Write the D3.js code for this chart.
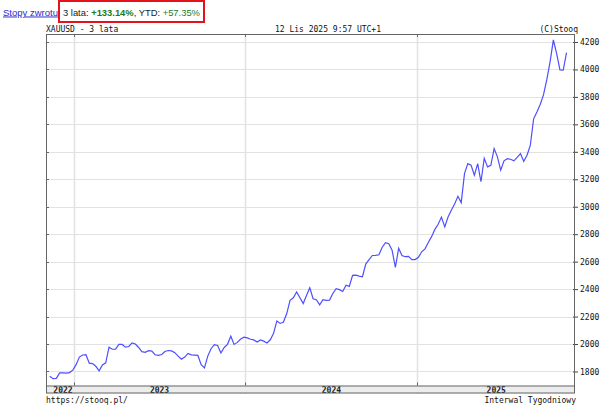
<!DOCTYPE html>
<html><head><meta charset="utf-8">
<script src="https://cdn.jsdelivr.net/npm/d3@7"></script>
<style>
html,body{margin:0;padding:0;background:#fff;}
svg{display:block;}
</style></head>
<body>
<svg id="c" width="605" height="411"></svg>
<script>
// ---- data ----
const firstWeek = "2022-11-11";
const lastWeek = "2025-11-14";
const closes2022 = [1765,1748,1750,1790,1790,1788,1792,1810];
const closes2023 = [1850,1905,1920,1922,1861,1858,1838,1805,1848,1863,1977,1962,1963,1998,1997,1977,1982,2008,2000,1975,1945,1940,1952,1948,1922,1917,1924,1946,1953,1950,1937,1912,1889,1905,1932,1921,1919,1917,1850,1826,1912,1966,1996,1990,1935,1975,1998,2057,1997,2012,2036,2050];
const closes2024 = [2045,2035,2030,2014,2030,2021,2008,2031,2079,2168,2150,2160,2222,2318,2337,2380,2337,2295,2354,2410,2330,2323,2285,2323,2318,2320,2368,2403,2396,2383,2428,2420,2500,2502,2495,2490,2582,2615,2645,2646,2650,2705,2738,2731,2683,2558,2697,2645,2636,2638,2615,2615];
const closes2025 = [2632,2672,2693,2740,2782,2835,2872,2925,2853,2925,2975,3020,3076,3030,3241,3314,3302,3230,3314,3182,3352,3290,3302,3424,3363,3266,3334,3350,3346,3334,3360,3387,3331,3375,3448,3640,3690,3745,3815,3925,4055,4215,4115,3997,3995,4122];
const yTickValues = [1800,2000,2200,2400,2600,2800,3000,3200,3400,3600,3800,4000,4200];
const yearLabels = ["2022","2023","2024","2025"];
const headerParts = [
  {text: "3 lata: ", color: "#222", bold: false},
  {text: "+133.14%", color: "#1c7a1c", bold: true},
  {text: ", YTD: ", color: "#222", bold: false},
  {text: "+57.35%", color: "#1c7a1c", bold: false}
];
const linkText = "Stopy zwrotu";
const titleLeft = "XAUUSD - 3 lata";
const titleMid = "12 Lis 2025 9:57 UTC+1";
const titleRight = "(C)Stooq";
const footLeft = "https://stooq.pl/";
const footRight = "Interwal Tygodniowy";

const values = [].concat(closes2022, closes2023, closes2024, closes2025);
const parse = d3.utcParse("%Y-%m-%d");
const weeks = d3.utcFriday.range(parse(firstWeek), d3.utcDay.offset(parse(lastWeek), 1));
const data = weeks.map((d, i) => ({date: d, v: values[i]}));

// ---- layout ----
const L = 46, R = 575, T = 34, B = 385.5, SB = 393.5;
const svg = d3.select("#c");
const mono = "'DejaVu Sans Mono', 'Liberation Mono', monospace";
const sans = "Arial, 'Liberation Sans', sans-serif";

const x = d3.scaleUtc().domain([Date.UTC(2022,10,3), Date.UTC(2025,11,2)]).range([L, R]);
const y = d3.scaleLinear().domain([1698, 4258]).range([B, T]);

// header
svg.append("text").attr("x", 3).attr("y", 15.5)
  .attr("font-family", sans).attr("font-size", 9.5)
  .attr("fill", "#2a2acf").attr("text-decoration", "underline").text(linkText);
svg.append("rect").attr("x", 59).attr("y", 1).attr("width", 145).attr("height", 21)
  .attr("fill", "none").attr("stroke", "#e3131b").attr("stroke-width", 2);
let hx = 63;
headerParts.forEach(p => {
  const t = svg.append("text").attr("x", hx).attr("y", 15.5)
    .attr("font-family", sans).attr("font-size", 9.4)
    .attr("font-weight", p.bold ? "bold" : "normal")
    .attr("fill", p.color).attr("xml:space", "preserve").style("white-space", "pre")
    .text(p.text);
  hx += t.node().getComputedTextLength();
});

// chart titles
const t8 = (sel) => sel.attr("font-family", mono).attr("font-size", 8).attr("fill", "#111");
t8(svg.append("text").attr("x", L).attr("y", 31.5).text(titleLeft));
t8(svg.append("text").attr("x", 328).attr("y", 31.5).attr("text-anchor", "middle").text(titleMid));
t8(svg.append("text").attr("x", R + 3).attr("y", 31.5).attr("text-anchor", "end").text(titleRight));

// gridlines horizontal
svg.append("g").selectAll("line").data(yTickValues).join("line")
  .attr("x1", L).attr("x2", R)
  .attr("y1", d => Math.round(y(d)) + 0.5).attr("y2", d => Math.round(y(d)) + 0.5)
  .attr("stroke", "#e2e2e2").attr("stroke-width", 1);

// year boundaries
const yearStarts = d3.utcYear.range(x.domain()[0], x.domain()[1]).filter(d => x(d) > L);
svg.append("g").selectAll("line").data(yearStarts).join("line")
  .attr("x1", d => Math.round(x(d)) + 0.5).attr("x2", d => Math.round(x(d)) + 0.5)
  .attr("y1", T).attr("y2", B)
  .attr("stroke", "#e2e2e2").attr("stroke-width", 1.5);
svg.append("g").selectAll("line").data(yearStarts).join("line")
  .attr("x1", d => Math.round(x(d)) + 0.5).attr("x2", d => Math.round(x(d)) + 0.5)
  .attr("y1", T).attr("y2", T + 3).attr("stroke", "#666");
svg.append("g").selectAll("line").data(yearStarts).join("line")
  .attr("x1", d => Math.round(x(d)) + 0.5).attr("x2", d => Math.round(x(d)) + 0.5)
  .attr("y1", B - 3).attr("y2", SB).attr("stroke", "#666");

// left inner ticks
svg.append("g").selectAll("line").data(yTickValues).join("line")
  .attr("x1", L).attr("x2", L + 3)
  .attr("y1", d => Math.round(y(d)) + 0.5).attr("y2", d => Math.round(y(d)) + 0.5)
  .attr("stroke", "#666");

// right axis
const yAxis = d3.axisRight(y).tickValues(yTickValues).tickSize(3).tickPadding(2).tickFormat(d3.format("d"));
const ga = svg.append("g").attr("transform", `translate(${R},0)`).call(yAxis);
ga.select(".domain").remove();
ga.selectAll(".tick line").attr("stroke", "#444").attr("x1", -2);
ga.selectAll(".tick text").attr("font-family", mono).attr("font-size", 8).attr("fill", "#111");

// x strip
svg.append("rect").attr("x", L).attr("y", B).attr("width", R - L).attr("height", SB - B)
  .attr("fill", "#ececec");
const bounds = [x.domain()[0]].concat(yearStarts).concat([x.domain()[1]]);
const yearLabelData = yearLabels.map((lab, i) => {
  const a = x(bounds[i]), b = x(bounds[i + 1]);
  return {lab, cx: Math.max((a + b) / 2, a + 17)};
});
svg.append("g").selectAll("text").data(yearLabelData).join("text")
  .attr("x", d => d.cx).attr("y", SB - 1).attr("text-anchor", "middle")
  .attr("font-family", mono).attr("font-size", 8).attr("font-weight", "bold").attr("fill", "#222")
  .text(d => d.lab);

// frame
svg.append("rect").attr("x", L + 0.5).attr("y", T + 0.5).attr("width", R - L - 1).attr("height", SB - T - 1)
  .attr("fill", "none").attr("stroke", "#666").attr("stroke-width", 1);
svg.append("line").attr("x1", L).attr("x2", R).attr("y1", B + 0.5).attr("y2", B + 0.5)
  .attr("stroke", "#666");

// price line
svg.append("path").datum(data)
  .attr("fill", "none").attr("stroke", "#4f4fff").attr("stroke-width", 1.2)
  .attr("d", d3.line().x(d => x(d.date)).y(d => y(d.v)));

// footer
t8(svg.append("text").attr("x", L).attr("y", 403).text(footLeft));
t8(svg.append("text").attr("x", R + 1).attr("y", 403).attr("text-anchor", "end").text(footRight));
</script>
</body></html>
